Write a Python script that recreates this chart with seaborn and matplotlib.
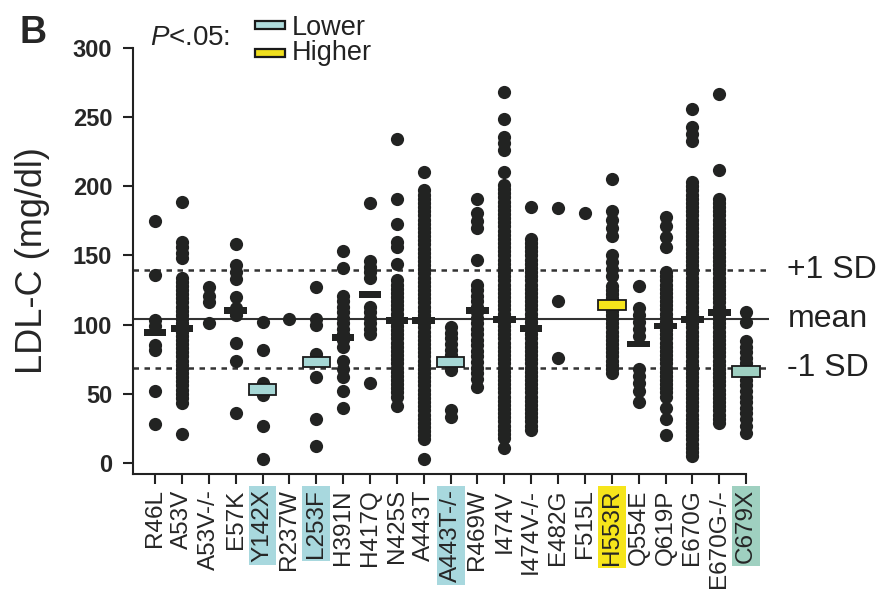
import numpy as np
import pandas as pd
import matplotlib
matplotlib.use('Agg')
import matplotlib.pyplot as plt
import seaborn as sns
from matplotlib.patches import Rectangle

# ---- data (LDL-C, mg/dl) ----
variants = ['R46L', 'A53V', 'A53V-/-', 'E57K', 'Y142X', 'R237W', 'L253F',
            'H391N', 'H417Q', 'N425S', 'A443T', 'A443T-/-', 'R469W', 'I474V',
            'I474V-/-', 'E482G', 'F515L', 'H553R', 'Q554E', 'Q619P', 'E670G',
            'E670G-/-', 'C679X']

r46l = [175, 136, 103, 99, 85, 82, 52, 28]
a53v = [189, 160, 156, 152, 148, 134, 131, 128, 125, 122, 119, 116, 113, 110,
        107, 104, 101, 98, 95, 92, 89, 86, 83, 80, 77, 74, 71, 68, 65, 62, 59,
        56, 53, 50, 47, 43, 21]
a53v_ko = [127, 121, 116, 101]
e57k = [158, 143, 138, 133, 120, 112, 107, 87, 74, 36]
y142x = [102, 82, 58, 49, 27, 3]
r237w = [104]
l253f = [127, 104, 100, 79, 62, 32, 12]
h391n = [153, 141, 121, 117, 113, 109, 105, 101, 97, 93, 89, 84, 74, 68, 62, 52, 40]
h417q = [188, 146, 142, 138, 134, 113, 109, 105, 101, 97, 93, 58]
n425s = [234, 191, 173, 160, 156, 144, 132, 129, 126, 123, 120, 117, 114, 111,
         108, 105, 102, 99, 96, 93, 90, 87, 84, 81, 78, 75, 72, 69, 66, 63, 60,
         57, 54, 51, 48, 41]
a443t = [210, 197, 194, 191, 188, 185, 182, 179, 176, 173, 170, 167, 164, 161,
         158, 155, 152, 149, 146, 143, 140, 137, 134, 131, 128, 125, 122, 119,
         116, 113, 110, 107, 104, 101, 98, 95, 92, 89, 86, 83, 80, 77, 74, 71,
         68, 65, 62, 59, 56, 53, 50, 47, 44, 41, 38, 35, 32, 29, 26, 23, 20, 17, 3]
a443t_ko = [98, 94, 90, 86, 82, 78, 74, 70, 67, 38, 33]
r469w = [191, 181, 175, 170, 147, 129, 125, 121, 117, 113, 109, 105, 101, 97,
         93, 89, 85, 81, 77, 73, 69, 65, 61, 55]
i474v = [268, 249, 236, 231, 226, 210, 201, 198, 195, 192, 189, 186, 183, 180,
         177, 174, 171, 168, 165, 162, 159, 156, 153, 150, 147, 144, 141, 138,
         135, 132, 129, 126, 123, 120, 117, 114, 111, 108, 105, 102, 99, 96, 93,
         90, 87, 84, 81, 78, 75, 72, 69, 66, 63, 60, 57, 54, 51, 48, 45, 42, 39,
         36, 33, 30, 27, 24, 21, 18, 11]
i474v_ko = [185, 162, 159, 156, 153, 150, 147, 144, 141, 138, 135, 132, 129,
            126, 123, 120, 117, 114, 111, 108, 105, 102, 99, 96, 93, 90, 87, 84,
            81, 78, 75, 72, 69, 66, 63, 60, 57, 54, 51, 48, 45, 42, 39, 36, 33,
            30, 27, 24]
e482g = [184, 117, 76]
f515l = [181]
h553r = [205, 182, 176, 170, 164, 150, 145, 140, 135, 128, 125, 122, 119, 116,
         113, 110, 107, 104, 101, 98, 95, 92, 89, 86, 83, 80, 77, 74, 71, 68, 65]
q554e = [128, 112, 107, 102, 97, 92, 68, 63, 58, 52, 44]
q619p = [178, 171, 163, 156, 138, 135, 132, 129, 126, 123, 120, 117, 114, 111,
         108, 105, 102, 99, 96, 93, 90, 87, 84, 81, 78, 75, 72, 69, 66, 63, 60,
         57, 54, 51, 48, 40, 32, 20]
e670g = [256, 243, 238, 233, 203, 200, 197, 194, 191, 188, 185, 182, 179, 176,
         173, 170, 167, 164, 161, 158, 155, 152, 149, 146, 143, 140, 137, 134,
         131, 128, 125, 122, 119, 116, 113, 110, 107, 104, 101, 98, 95, 92, 89,
         86, 83, 80, 77, 74, 71, 68, 65, 62, 59, 56, 53, 50, 47, 44, 41, 38, 35,
         32, 29, 26, 23, 20, 17, 14, 11, 8, 5]
e670g_ko = [267, 212, 191, 188, 185, 182, 179, 176, 173, 170, 167, 164, 161,
            158, 155, 152, 149, 146, 143, 140, 137, 134, 131, 128, 125, 122, 119,
            116, 113, 110, 107, 104, 101, 98, 95, 92, 89, 86, 83, 80, 77, 74, 71,
            68, 65, 62, 59, 56, 53, 50, 47, 44, 41, 38, 35, 32, 29]
c679x = [109, 102, 88, 84, 80, 76, 72, 68, 64, 60, 56, 52, 48, 44, 40, 36, 32, 27, 22]

values = [r46l, a53v, a53v_ko, e57k, y142x, r237w, l253f, h391n, h417q, n425s,
          a443t, a443t_ko, r469w, i474v, i474v_ko, e482g, f515l, h553r, q554e,
          q619p, e670g, e670g_ko, c679x]

# group means (nan = no bar visible)
group_means = [94, 97, np.nan, 110, 53, np.nan, 73, 91, 122, 103, 103, 73, 110,
               104, 97, np.nan, np.nan, 114, 86, 99, 104, 109, 66]
# P<.05 flag
significance = ['', '', '', '', 'lower', '', 'lower', '', '', '', '', 'lower',
                '', '', '', '', '', 'higher', '', '', '', '', 'lower']

pop_mean = 104
pop_sd = 35.5

rows = [(v, y) for v, vals in zip(variants, values) for y in vals]
df = pd.DataFrame(rows, columns=['variant', 'ldl'])

sns.set_style('ticks')
plt.rcParams['font.family'] = ['Liberation Sans', 'DejaVu Sans']
plt.rcParams['mathtext.fontset'] = 'custom'
plt.rcParams['mathtext.it'] = 'Liberation Sans:italic'
plt.rcParams['mathtext.rm'] = 'Liberation Sans'

W, H = 888, 593
fig = plt.figure(figsize=(W / 100, H / 100), dpi=100)
ax_l, ax_r, ax_t, ax_b = 133, 769, 48, 474
ax = fig.add_axes([ax_l / W, 1 - ax_b / H, (ax_r - ax_l) / W, (ax_b - ax_t) / H])

dot_col = '#222322'
sns.stripplot(data=df, x='variant', y='ldl', order=variants, jitter=False,
              color=dot_col, size=9.5, linewidth=0, ax=ax, zorder=3)

# reference lines
ax.axhline(pop_mean, color='#333333', lw=1.5, zorder=2)
for off in (pop_sd, -pop_sd):
    ax.axhline(pop_mean + off, color='#333333', lw=1.8, ls=(0, (2.2, 2.2)), zorder=2)

# mean bars
fill = {'lower': '#a6d7d5', 'higher': '#f6e51b'}
for i, (m, sig) in enumerate(zip(group_means, significance)):
    if np.isnan(m):
        continue
    if sig:
        c = '#9fd0c2' if variants[i] == 'C679X' else fill[sig]
        ax.bar(i, 7.5, bottom=m - 3.75, width=1.02, color=c, edgecolor='#1a1a1a',
               linewidth=1.3, zorder=5)
    else:
        ax.bar(i, 5, bottom=m - 2.5, width=0.84, color=dot_col, linewidth=0, zorder=4)

# right-hand labels
tr = ax.get_yaxis_transform()
for yv, lab in [(pop_mean + pop_sd, '+1 SD'), (pop_mean, 'mean'), (pop_mean - pop_sd, '-1 SD')]:
    ax.text(1.029, yv, lab, transform=tr, ha='left', va='center', fontsize=23, color='#222222')

ax.set_xlim(-0.82, 22.85)
ax.set_ylim(-8, 300)
ax.set_yticks(range(0, 301, 50))
ax.set_yticklabels([str(v) for v in range(0, 301, 50)], fontsize=17, fontweight='bold')
ax.set_xticks(range(len(variants)))
ax.set_xticklabels(variants, rotation=90, fontsize=17.5)
ax.set_xlabel('')
ax.set_ylabel('LDL-C (mg/dl)', fontsize=26)
ax.yaxis.set_label_coords(-0.131, 0.5)

label_bg = {'Y142X': '#a8d8de', 'L253F': '#a8d8de', 'A443T-/-': '#a8d8de',
            'H553R': '#f6e51b', 'C679X': '#9fd0c0'}
for t in ax.get_xticklabels():
    if t.get_text() in label_bg:
        t.set_bbox(dict(boxstyle='square,pad=0.12', fc=label_bg[t.get_text()], ec='none'))

sns.despine(ax=ax)
for s in ('left', 'bottom'):
    ax.spines[s].set_linewidth(1.5)
    ax.spines[s].set_color('#222222')
ax.spines['bottom'].set_bounds(-0.82, 22)
ax.tick_params(axis='both', length=7, width=1.5, color='#222222')
ax.tick_params(axis='y', pad=8)
ax.tick_params(axis='x', pad=4)

# panel letter and significance key
fig.text(20 / W, 1 - 43 / H, 'B', fontsize=27, fontweight='bold', va='baseline')
fig.text(150 / W, 1 - 45 / H, '$P$<.05:', fontsize=20, va='baseline', color='#222222')
for y0, c, lab, base in [(20.5, '#b0dcdc', 'Lower', 35), (48.5, '#f0df1e', 'Higher', 60)]:
    fig.add_artist(Rectangle((255 / W, 1 - (y0 + 8.5) / H), 30 / W, 8.5 / H,
                             transform=fig.transFigure, fc=c, ec='#1a1a1a', lw=1.6))
    fig.text(292 / W, 1 - base / H, lab, fontsize=19.5, va='baseline', color='#222222')

fig.savefig('out.png', dpi=100)
